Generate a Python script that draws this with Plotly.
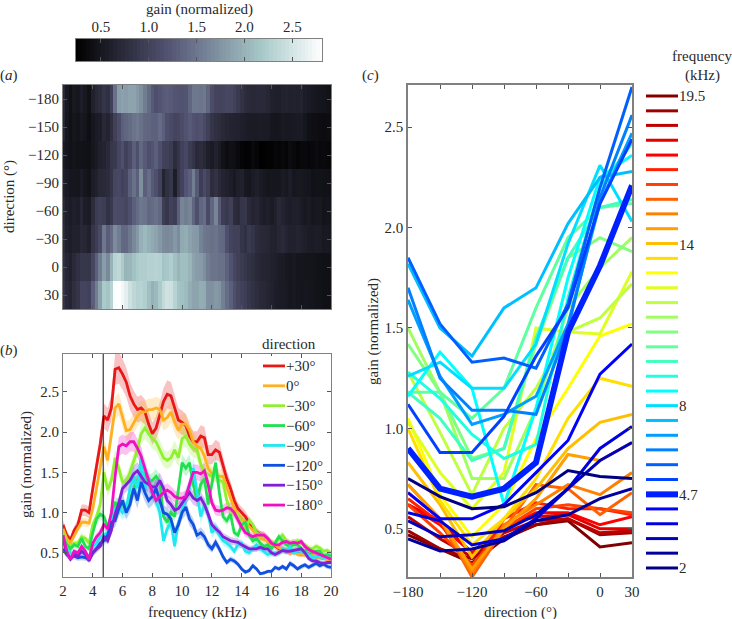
import plotly.graph_objects as go

W, H = 732, 619
FONT = "Liberation Serif"
INK = "#2a2a2a"
FRAME = "#808080"

directions = [-180, -150, -120, -90, -60, -30, 0, 30]
freq_khz = [2 + 0.25 * k for k in range(73)]

gain_p30 = [.85,.72,.66,.78, .85,1.03,1.03,1.0, 1.3,1.55,1.85,2.2, 2.15,2.3,2.78,2.8,
            2.72,2.62,2.45,2.35, 2.28,2.3,2.25,2.1, 1.98,2.05,2.2,2.38, 2.47,2.45,2.3,2.15,
            2.12,2.08,1.95,1.88, 1.88,1.95,1.93,1.72, 1.72,1.78,1.75,1.58, 1.42,1.3,1.15,1.05,
            1.0,.95,.88,.82, .76,.72,.70,.66, .62,.58,.55,.55, .53,.5,.52,.5,
            .48,.5,.48,.47, .45,.45,.43,.43, .42]
gain_0 = [.8,.68,.62,.72, .8,.88,.88,.87, 1.05,1.3,1.55,1.82, 1.65,2.0,2.3,2.35,
          2.2,2.02,2.03,2.12, 2.2,2.25,2.25,2.28, 2.28,2.3,2.28,2.15, 2.18,2.25,2.12,2.02,
          2.1,2.1,2.02,1.88, 1.82,1.8,1.7,1.55, 1.48,1.48,1.45,1.45, 1.32,1.18,1.05,.98,
          .93,.88,.82,.78, .72,.68,.66,.65, .62,.60,.56,.55, .52,.5,.52,.48,
          .48,.47,.47,.47, .45,.44,.43,.42, .42]
gain_m30 = [.75,.62,.58,.62, .62,.70,.68,.62, .85,.95,1.1,1.5, 1.28,1.4,1.68,1.55,
            1.38,1.38,1.5,1.65, 1.78,1.98,2.05,1.98, 1.92,1.88,1.78,1.68, 1.65,1.68,1.78,1.68,
            1.92,1.95,1.85,1.8, 1.78,1.6,1.5,1.48, 1.45,1.48,1.4,1.38, 1.15,1.02,.98,.98,
            .85,.8,.9,.85, .75,.72,.7,.68, .63,.62,.68,.72, .65,.62,.62,.65,
            .62,.6,.56,.55, .58,.56,.52,.53, .5]
gain_m60 = [.7,.6,.55,.6, .58,.68,.58,.55, .75,.92,.98,.95, .82,.9,1.12,1.1,
            1.1,1.05,1.15,1.3, 1.4,1.5,1.48,1.38, 1.4,1.45,1.38,.95, .88,1.0,.95,1.3,
            1.62,1.55,1.62,1.35, 1.15,1.35,1.42,1.1, 1.35,1.62,1.25,.95, .9,.98,.75,.72,
            .85,.88,.72,.65, .68,.62,.58,.6, .55,.62,.7,.65, .6,.58,.6,.6,
            .55,.52,.55,.5, .52,.52,.46,.48, .46]
gain_m90 = [.62,.55,.5,.5, .48,.55,.5,.45, .58,.62,.7,.72, .75,.85,1.05,1.08,
            1.0,1.05,1.3,1.45, 1.3,1.7,1.3,1.42, 1.25,1.15,1.0,.65, .8,.88,.58,.88,
            1.02,1.2,1.3,1.55, 1.25,.95,1.1,.98, .75,.82,.72,.65, .62,.58,.52,.6,
            .62,.52,.5,.55, .6,.55,.52,.48, .5,.5,.5,.55, .52,.58,.5,.52,
            .52,.5,.48,.44, .45,.45,.44,.44, .42]
gain_m120 = [.55,.48,.44,.46, .44,.45,.44,.42, .5,.55,.62,.65, .72,.88,.9,1.05,
             1.15,1.0,1.1,1.3, 1.15,1.38,1.25,1.15, 1.2,1.3,1.15,1.0, .98,.92,.75,.85,
             1.0,1.07,.92,.85, .72,.75,.7,.6, .55,.63,.55,.45, .38,.42,.4,.36,
             .3,.26,.28,.34, .3,.24,.25,.27, .27,.32,.3,.33, .3,.37,.34,.3,
             .33,.35,.32,.35, .37,.34,.36,.33, .32]
gain_m150 = [.68,.5,.42,.48, .46,.52,.48,.4, .5,.55,.58,.7, .65,.78,.98,1.12,
             1.3,1.35,1.4,1.48, 1.52,1.45,1.38,1.35, 1.32,1.32,1.4,1.3, 1.15,1.1,1.03,1.05,
             1.12,1.18,1.25,1.18, 1.15,1.18,1.1,.98, .85,.8,.76,.7, .67,.65,.64,.63,
             .6,.58,.55,.55, .55,.57,.55,.55, .5,.48,.5,.53, .52,.52,.53,.54,
             .55,.5,.43,.4, .4,.38,.37,.38, .38]
gain_m180 = [.72,.52,.42,.52, .5,.58,.52,.42, .62,.7,.75,.85, .8,1.0,1.45,1.82,
             1.85,1.83,1.88,1.88, 1.8,1.7,1.55,1.4, 1.25,1.15,1.2,1.25, 1.28,1.25,1.2,1.18,
             1.18,1.2,1.35,1.5, 1.5,1.48,1.52,1.35, 1.12,1.03,1.02,1.03, 1.06,1.05,1.0,.9,
             .82,.75,.72,.7, .72,.72,.72,.68, .62,.6,.6,.63, .64,.62,.63,.62,
             .64,.58,.54,.52, .5,.48,.47,.45, .42]

series_names = ["+30°", "0°", "−30°", "−60°", "−90°", "−120°", "−150°", "−180°"]
series_gains = [gain_p30, gain_0, gain_m30, gain_m60, gain_m90, gain_m120, gain_m150, gain_m180]
series_colors = ["#e81818", "#ffb020", "#90f030", "#20e050", "#20e8f0", "#1050e0", "#8020d8", "#f010c0"]
series_band = [.07, .06, .065, .065, .09, .09, .07, .065]

heat_rows = [gain_m180, gain_m150, gain_m120, gain_m90, gain_m60, gain_m30, gain_0, gain_p30]

# Panel c: one row per frequency, one value per direction (-180 ... 30)
line_freqs = [2.00, 2.55, 3.09, 3.64, 4.19, 4.73, 5.28, 5.83, 6.38, 6.92, 7.47, 8.02, 8.56, 9.11, 9.66, 10.20, 10.75,
              11.30, 11.84, 12.39, 12.94, 13.48, 14.03, 14.58, 15.13, 15.67, 16.22, 16.77, 17.31, 17.86, 18.41, 18.95, 19.50]
line_colors = ["#000080", "#00009f", "#0000bf", "#0000df", "#0000ff", "#0020ff", "#0040ff", "#0060ff", "#0080ff",
               "#009fff", "#00bfff", "#00dfff", "#00ffff", "#20ffdf", "#40ffbf", "#60ff9f", "#80ff80", "#9fff60",
               "#bfff40", "#dfff20", "#ffff00", "#ffdf00", "#ffbf00", "#ff9f00", "#ff8000", "#ff6000", "#ff4000",
               "#ff2000", "#ff0000", "#df0000", "#bf0000", "#9f0000", "#800000"]
line_gains = [
    [.75, .66, .60, .61, .68, .79, .76, .75],
    [.45, .39, .40, .44, .54, .57, .65, .70],
    [.54, .46, .47, .49, .57, .70, .84, .93],
    [.58, .54, .42, .45, .55, .70, .90, 1.01],
    [.68, .55, .55, .62, .78, .94, 1.27, 1.42],
    [.90, .70, .66, .70, .83, 1.48, 1.81, 2.21],
    [1.12, .88, .88, 1.06, 1.36, 1.60, 2.12, 2.44],
    [1.85, 1.52, 1.33, 1.35, 1.30, 1.62, 2.20, 2.70],
    [1.70, 1.25, 1.09, 1.09, 1.07, 1.50, 2.15, 2.56],
    [1.64, 1.26, 1.02, 1.07, 1.16, 1.52, 2.12, 2.47],
    [1.82, 1.50, 1.36, 1.60, 1.70, 2.02, 2.25, 2.28],
    [1.26, 1.33, 1.20, 1.20, 1.42, 1.92, 2.31, 2.03],
    [1.16, 1.38, 1.20, .62, 1.10, 1.75, 2.25, 2.36],
    [1.28, 1.15, .97, .85, .92, 1.65, 2.20, 2.42],
    [1.18, 1.05, .84, .90, 1.45, 1.85, 2.10, 2.14],
    [1.18, 1.18, 1.05, 1.20, 1.60, 1.95, 2.10, 2.12],
    [1.42, 1.18, .85, .90, 1.42, 1.85, 1.95, 1.88],
    [1.50, 1.18, .75, .75, 1.10, 1.60, 1.80, 1.95],
    [1.28, .98, .67, 1.00, 1.20, 1.48, 1.55, 1.72],
    [1.03, .78, .60, .78, 1.50, 1.48, 1.47, 1.78],
    [1.05, .67, .46, .62, .95, 1.20, 1.46, 1.52],
    [1.00, .64, .42, .55, .75, 1.05, 1.25, 1.21],
    [.83, .62, .36, .55, .70, .90, 1.03, 1.07],
    [.72, .55, .30, .50, .65, .87, .84, .93],
    [.72, .55, .28, .52, .62, .72, .67, .78],
    [.68, .55, .26, .50, .72, .70, .57, .68],
    [.62, .48, .32, .50, .60, .62, .60, .58],
    [.65, .53, .30, .55, .63, .60, .60, .57],
    [.62, .52, .38, .50, .58, .58, .52, .56],
    [.62, .54, .38, .52, .56, .57, .50, .50],
    [.56, .45, .36, .48, .54, .55, .48, .49],
    [.49, .40, .35, .46, .52, .55, .47, .48],
    [.47, .40, .33, .45, .52, .54, .41, .43],
]
highlight_freq = 4.73
legend_freq_ticks = [2, 4.7, 8, 14, 19.5]
legend_freq_text = ["2", "4.7", "8", "14", "19.5"]

GAIN_MIN, GAIN_MAX = 0.24, 2.81
colorbar_levels = [GAIN_MIN + (GAIN_MAX - GAIN_MIN) * k / 63 for k in range(64)]


def dx(a, b):
    return [a / W, b / W]


def dy(top, bottom):
    return [(H - bottom) / H, (H - top) / H]


def rgba(hex_color, alpha):
    r, g, b = (int(hex_color[i:i + 2], 16) for i in (1, 3, 5))
    return f"rgba({r},{g},{b},{alpha})"


fig = go.Figure()

# (a) heat map
bone = [[0, "#000000"], [0.375, "#535373"], [0.75, "#a6c7c7"], [1, "#ffffff"]]
fig.add_trace(go.Heatmap(
    x=freq_khz, y=directions, z=heat_rows, xaxis="x", yaxis="y",
    colorscale=bone, zmin=GAIN_MIN, zmax=GAIN_MAX, showscale=False))

# colour scale of (a), with its labels above the strip
fig.add_trace(go.Heatmap(
    x=colorbar_levels, y=[0], z=[colorbar_levels], xaxis="x6", yaxis="y6",
    colorscale=bone, zmin=GAIN_MIN, zmax=GAIN_MAX, showscale=False, hoverinfo="skip"))

# (b) curves with shaded bands
for name, gains, color, band in zip(series_names, series_gains, series_colors, series_band):
    upper = [g * (1 + band) for g in gains]
    lower = [g * (1 - band) for g in gains]
    fig.add_trace(go.Scatter(
        x=freq_khz + freq_khz[::-1], y=upper + lower[::-1], xaxis="x2", yaxis="y2",
        mode="lines", line=dict(width=0), fill="toself", fillcolor=rgba(color, 0.26),
        hoverinfo="skip", showlegend=False))
for name, gains, color in zip(series_names, series_gains, series_colors):
    fig.add_trace(go.Scatter(
        x=freq_khz, y=gains, xaxis="x2", yaxis="y2", mode="lines", name=name,
        line=dict(color=color, width=2.8), showlegend=False))

# (c) direction tuning lines, high frequencies first so low ones sit on top
for f, gains, color in reversed(list(zip(line_freqs, line_gains, line_colors))):
    fig.add_trace(go.Scatter(
        x=directions, y=gains, xaxis="x3", yaxis="y3", mode="lines", name=f"{f} kHz",
        line=dict(color=color, width=6 if f == highlight_freq else 3), showlegend=False))

# key of (c): a strip whose scale is frequency
for f, color in zip(line_freqs, line_colors):
    fig.add_trace(go.Scatter(
        x=[0, 1], y=[f, f], xaxis="x4", yaxis="y4", mode="lines",
        line=dict(color=color, width=6 if f == highlight_freq else 3),
        hoverinfo="skip", showlegend=False))

# key of (b): a strip whose scale is direction
for d, color in zip(directions[::-1], series_colors):
    fig.add_trace(go.Scatter(
        x=[0, 1], y=[d, d], xaxis="x5", yaxis="y5", mode="lines",
        line=dict(color=color, width=2.8), hoverinfo="skip", showlegend=False))

tick_font = dict(family=FONT, size=15, color=INK)
title_font = dict(family=FONT, size=15, color=INK)
frame = dict(showline=True, linecolor=FRAME, linewidth=1, mirror="ticks", ticks="inside",
             ticklen=4, tickcolor="#555", tickwidth=1, showgrid=False, zeroline=False,
             tickfont=tick_font)
frame_c = {**frame, "linewidth": 1.5}

fig.update_layout(
    width=W, height=H, autosize=False, margin=dict(l=0, r=0, t=0, b=0, autoexpand=False),
    paper_bgcolor="white", plot_bgcolor="white", showlegend=False,
    font=dict(family=FONT, color=INK),
    xaxis=dict(domain=dx(63, 331), anchor="y", range=[2, 20], tickvals=[4, 6, 8, 10, 12, 14, 16, 18],
               showticklabels=False, **frame),
    yaxis=dict(domain=dy(85, 309), anchor="x", range=[45, -195], tickvals=directions,
               ticktext=["−180", "−150", "−120", "−90", "−60", "−30", "0", "30"], **frame),
    xaxis2=dict(domain=dx(63, 331), anchor="y2", range=[2, 20], tickvals=list(range(2, 21, 2)), **frame),
    yaxis2=dict(domain=dy(354, 577), anchor="x2", range=[0.2, 2.97], tickvals=[.5, 1, 1.5, 2, 2.5],
                tickformat=".1f", **frame),
    xaxis3=dict(domain=dx(408, 632), anchor="y3", range=[-180, 30], tickvals=directions,
                ticktext=["−180", "", "−120", "", "−60", "", "0", "30"], **frame_c),
    yaxis3=dict(domain=dy(85, 577), anchor="x3", range=[0.26, 2.71], tickvals=[.5, 1, 1.5, 2, 2.5],
                tickformat=".1f", **frame_c),
    xaxis4=dict(domain=dx(646, 678), anchor="y4", range=[0, 1], visible=False),
    yaxis4=dict(domain=dy(85, 577), anchor="x4", side="right", range=[1.666, 19.908],
                tickvals=legend_freq_ticks, ticktext=legend_freq_text, showline=False, ticks="",
                showgrid=False, zeroline=False, tickfont=tick_font),
    xaxis5=dict(domain=dx(263, 285), anchor="y5", range=[0, 1], visible=False),
    yaxis5=dict(domain=dy(356, 515), anchor="x5", side="right", range=[-195, 45],
                tickvals=directions[::-1], ticktext=series_names, showline=False, ticks="",
                showgrid=False, zeroline=False, tickfont=tick_font),
    xaxis6=dict(domain=dx(76, 322), anchor="y6", side="top", range=[GAIN_MIN, GAIN_MAX],
                tickvals=[.5, 1, 1.5, 2, 2.5], tickformat=".1f", **frame),
    yaxis6=dict(domain=dy(39, 61), anchor="x6", range=[-0.5, 0.5], showticklabels=False, ticks="",
                showline=True, mirror=True, linecolor=FRAME, linewidth=1, showgrid=False, zeroline=False),
    shapes=[dict(type="line", xref="x2", yref="y2 domain", x0=4.7, x1=4.7, y0=0, y1=1,
                 line=dict(color="#111", width=1))],
)


def note(text, x, y, angle=0):
    fig.add_annotation(text=text, x=x / W, y=1 - y / H, xref="paper", yref="paper", showarrow=False,
                       xanchor="center", yanchor="middle", textangle=angle, font=title_font)


note("gain (normalized)", 199, 9)
note("(<i>a</i>)", 9, 76)
note("(<i>b</i>)", 9, 350)
note("(<i>c</i>)", 370, 76)
note("direction (°)", 10, 197, -90)
note("gain (normalized)", 26, 465, -90)
note("gain (normalized)", 373, 331, -90)
note("frequency (kHz)", 197, 612)
note("direction (°)", 520, 612)
note("direction", 289, 344)
note("frequency", 702, 56)
note("(kHz)", 702, 75)

fig.write_html("out.html", post_script="document.body.style.margin='0';",
               config={"displayModeBar": False})
